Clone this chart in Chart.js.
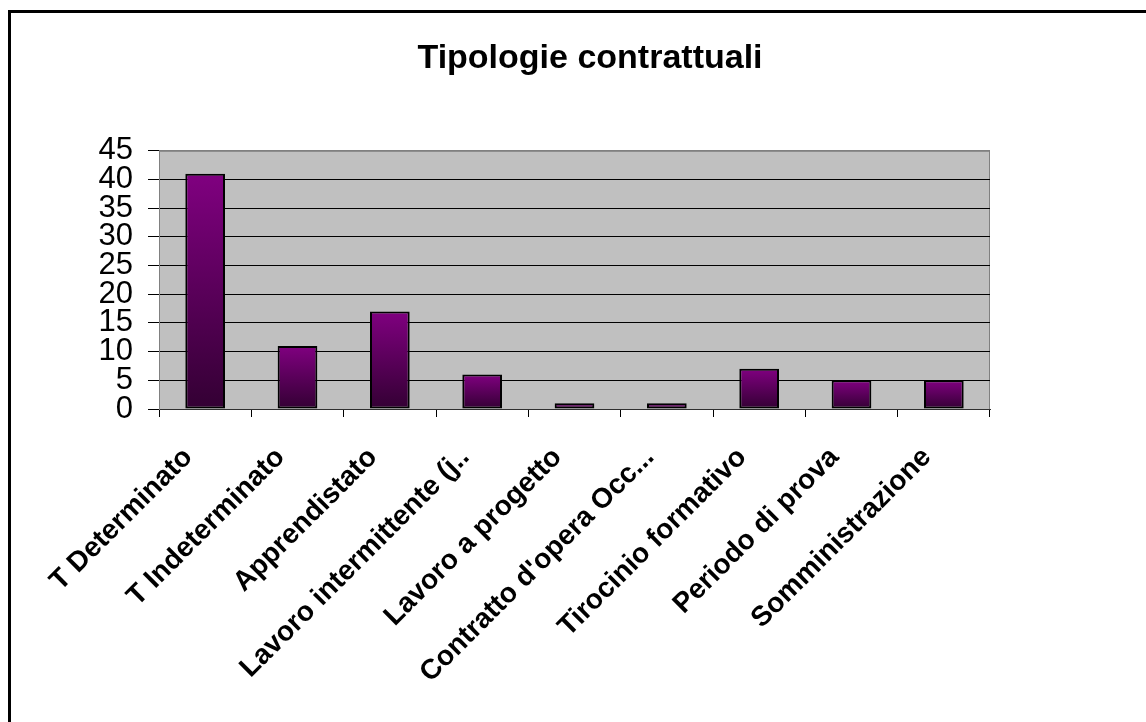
<!DOCTYPE html>
<html>
<head>
<meta charset="utf-8">
<script src="https://cdn.jsdelivr.net/npm/chart.js@4/dist/chart.umd.min.js"></script>
<style>
    html, body { margin: 0; padding: 0; background: #fff; overflow: hidden; }
    body { width: 1146px; height: 722px; position: relative; }
    #frame {
        position: absolute; left: 8px; top: 10px; width: 1200px; height: 800px;
        border-left: 3px solid #000; border-top: 3px solid #000;
    }
    #wrap { position: absolute; left: 0; top: 0; width: 1180px; height: 722px; }
</style>
</head>
<body>
<div id="frame"></div>
<div id="wrap"><canvas id="chart"></canvas></div>
<script>
// chart data
const categories = [
    'T Determinato',
    'T Indeterminato',
    'Apprendistato',
    'Lavoro intermittente (j..',
    'Lavoro a progetto',
    "Contratto d'opera Occ...",
    'Tirocinio formativo',
    'Periodo di prova',
    'Somministrazione'
];
const values = [41, 11, 17, 6, 1, 1, 7, 5, 5];
const yTicks = [0, 5, 10, 15, 20, 25, 30, 35, 40, 45];

const FONT = '"Liberation Sans", Arial, sans-serif';

// gray plot background with a thin border
const plotBackground = {
    id: 'plotBackground',
    beforeDraw(chart) {
        const { ctx, chartArea: a } = chart;
        ctx.save();
        ctx.fillStyle = '#C0C0C0';
        ctx.fillRect(a.left, a.top, a.right - a.left, a.bottom - a.top);
        ctx.strokeStyle = '#808080';
        ctx.lineWidth = 1;
        ctx.strokeRect(a.left + 0.5, a.top + 0.5, a.right - a.left - 1, a.bottom - a.top);
        ctx.restore();
    }
};

function barGradient(context) {
    const chart = context.chart;
    const y = chart.scales.y;
    if (!y || context.type !== 'data') return '#800080';
    const top = y.getPixelForValue(context.raw);
    const base = y.getPixelForValue(0);
    if (!isFinite(top) || !isFinite(base) || top === base) return '#800080';
    const g = chart.ctx.createLinearGradient(0, top, 0, base);
    g.addColorStop(0, '#800080');
    g.addColorStop(1, '#330033');
    return g;
}

document.addEventListener('DOMContentLoaded', () => {
    const canvas = document.getElementById('chart');
    new Chart(canvas, {
        type: 'bar',
        data: {
            labels: categories,
            datasets: [{
                data: values,
                backgroundColor: barGradient,
                borderColor: '#000',
                borderWidth: 2,
                borderSkipped: false,
                categoryPercentage: 1,
                barPercentage: 0.43
            }]
        },
        options: {
            responsive: true,
            maintainAspectRatio: false,
            animation: false,
            layout: { padding: 0 },
            plugins: {
                legend: { display: false },
                tooltip: { enabled: false },
                title: {
                    display: true,
                    text: 'Tipologie contrattuali',
                    color: '#000',
                    font: { family: FONT, size: 34, weight: 'bold' },
                    padding: { top: 38, bottom: 72 }
                }
            },
            scales: {
                x: {
                    grid: {
                        offset: true,
                        drawOnChartArea: false,
                        drawTicks: true,
                        tickLength: 8,
                        tickColor: '#000'
                    },
                    border: { color: '#303030', width: 1 },
                    ticks: {
                        autoSkip: false,
                        minRotation: 45,
                        maxRotation: 45,
                        color: '#000',
                        padding: 24,
                        labelOffset: -17,
                        font: { family: FONT, size: 28, weight: 'bold' }
                    },
                    afterFit(scale) { scale.height = 313; }
                },
                y: {
                    min: 0,
                    max: 45,
                    afterBuildTicks(scale) {
                        scale.ticks = yTicks.map(v => ({ value: v }));
                    },
                    grid: {
                        color: ctx => (ctx.tick && ctx.tick.value === 45) ? '#808080' : '#000',
                        lineWidth: 1,
                        tickLength: 11,
                        tickColor: '#000'
                    },
                    border: { color: '#808080', width: 1 },
                    ticks: {
                        autoSkip: false,
                        color: '#000',
                        padding: 15,
                        font: { family: FONT, size: 31 }
                    },
                    afterFit(scale) { scale.width = 159; }
                },
                // empty spacer on the right so the title stays centred on the whole frame
                spacer: {
                    type: 'linear',
                    position: 'right',
                    grid: { display: false, drawTicks: false },
                    border: { display: false },
                    ticks: { display: false },
                    afterFit(scale) { scale.width = 190; }
                }
            }
        },
        plugins: [plotBackground]
    });
});
</script>
</body>
</html>
